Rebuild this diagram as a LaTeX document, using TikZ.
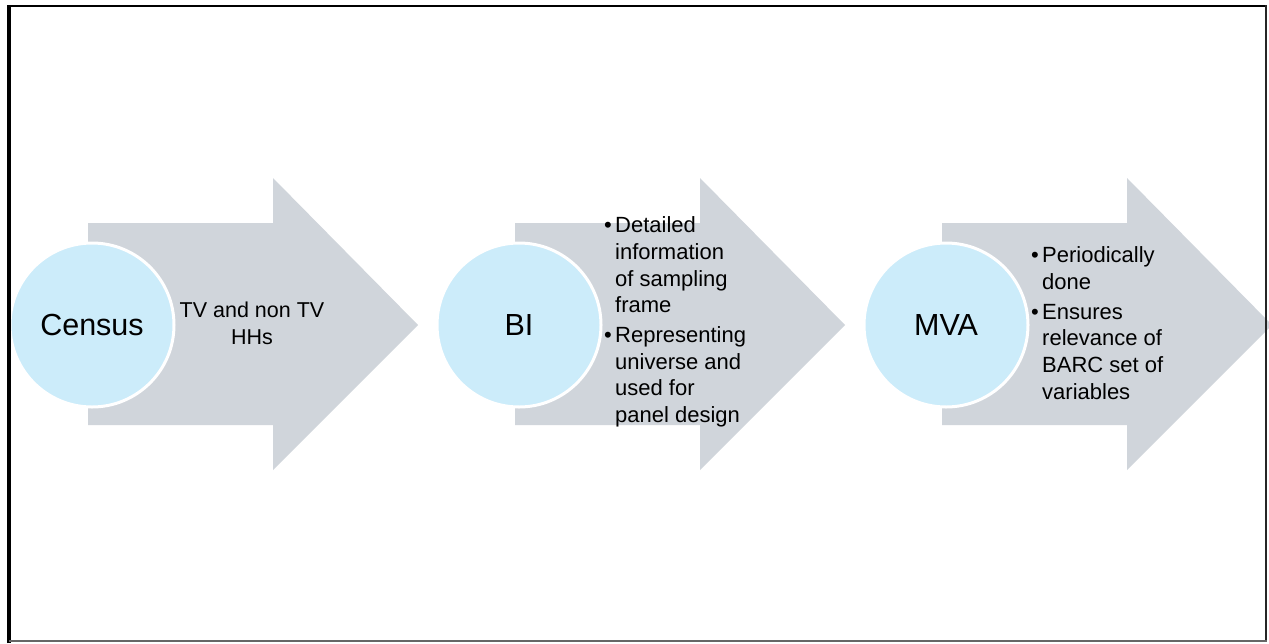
\documentclass[tikz,border=0pt]{standalone}
\usepackage{fontspec}
\setmainfont{Liberation Sans}
\begin{document}
\begin{tikzpicture}[x=1pt,y=-1pt,
  arrowfill/.style={fill=stepgrey, draw=none},
  bubble/.style={circle, fill=bubbleblue, draw=white, line width=3pt,
    minimum size=164pt, inner sep=0pt, font=\fontsize{30.5}{34}\selectfont},
  steptext/.style={anchor=west, align=left, inner sep=0pt,
    font=\fontsize{22}{26.7}\selectfont},
  centertext/.style={align=center, inner sep=0pt,
    font=\fontsize{21.5}{26.7}\selectfont}]
\definecolor{stepgrey}{RGB}{208,213,219}
\definecolor{bubbleblue}{RGB}{204,236,250}
\newcommand{\bitem}{\makebox[11pt][l]{\textbullet}}
\newcommand{\bcont}{\hspace*{11pt}}
\useasboundingbox (0,0) rectangle (1269,643);
\fill[white] (0,0) rectangle (1269,643);

% three block arrows, 427pt apart
\foreach \dx in {0,427,854}{
  \fill[arrowfill] (88+\dx,223) -- (273+\dx,223) -- (273+\dx,178)
    -- (418+\dx,325) -- (273+\dx,470) -- (273+\dx,425) -- (88+\dx,425) -- cycle;
}

% circles
\node[bubble] (census) at (92,325) {Census};
\node[bubble] (bi) at (519,325) {BI};
\node[bubble] (mva) at (946,325) {MVA};

% arrow texts
\node[centertext] (t1) at (252,323) {TV and non TV\\HHs};
\node[steptext] (t2) at (604,322) {\bitem Detailed\\\bcont information\\\bcont of sampling\\\bcont frame\\[3pt]
  \bitem Representing\\\bcont universe and\\\bcont used for\\\bcont panel design};
\node[steptext] (t3) at (1031,323) {\bitem Periodically\\\bcont done\\[3pt]
  \bitem Ensures\\\bcont relevance of\\\bcont BARC set of\\\bcont variables};

% page frame
\draw[line width=4pt] (9,643) -- (9,6);
\draw[line width=2pt] (7,6) -- (1266,6);
\draw[line width=2pt, black!85] (1266,5) -- (1266,641);
\draw[line width=1.5pt, black!60] (9,641) -- (1267,641);
\end{tikzpicture}
\end{document}
